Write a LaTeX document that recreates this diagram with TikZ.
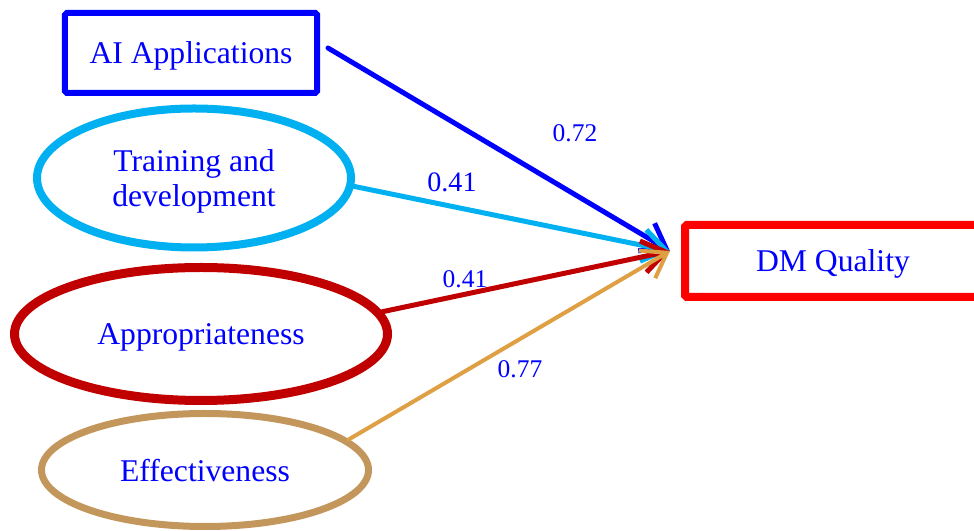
\documentclass[tikz,border=0pt]{standalone}
\usepackage{fontspec}
\setmainfont{Liberation Serif}
\usetikzlibrary{shapes.geometric,arrows.meta}
\definecolor{skyc}{RGB}{0,176,240}
\definecolor{darkr}{RGB}{192,0,0}
\definecolor{tanc}{RGB}{195,151,92}
\definecolor{orc}{RGB}{222,160,66}
\begin{document}
\begin{tikzpicture}[x=0.2mm,y=-0.2mm,
every node/.style={text=blue,font=\fontsize{18}{20}\selectfont,text depth=0pt},
wt/.style={font=\fontsize{14.5}{17}\selectfont},
link/.style={line width=1mm,line cap=round,-{Straight Barb[length=4.6mm,width=6.4mm]}}]
\useasboundingbox (0,0) rectangle (974,531);
% boxes and ellipses
\node[draw=blue,line width=1.2mm,rounded corners=1pt,minimum width=50.4mm,minimum height=16mm] (ai) at (191,53) {AI Applications};
\node[draw=skyc,ellipse,line width=1.6mm,minimum width=62.8mm,minimum height=27.8mm,align=center] (train) at (194,178) {Training and\\development};
\node[draw=darkr,ellipse,line width=1.8mm,minimum width=74.6mm,minimum height=26.6mm] (appr) at (201,334) {Appropriateness};
\node[draw=tanc,ellipse,line width=1.4mm,minimum width=65.4mm,minimum height=22.6mm] (eff) at (205,470) {Effectiveness};
\node[draw=red,line width=1.6mm,rounded corners=1pt,minimum width=59.2mm,minimum height=14.4mm] (dm) at (833,261) {DM Quality};
\coordinate (hub) at (670,251);
% arrows
\draw[link,blue] ([shift={(8,-5)}]ai.east) -- (hub);
\draw[link,skyc] (train.-3) -- (hub);
\draw[link,darkr] (appr.7) -- (hub);
\draw[link,orc,line width=0.8mm] (eff.12) -- (hub);
% weights
\node[wt] (w1) at (575,133) {0.72};
\node[wt,font=\fontsize{16}{18}\selectfont] (w2) at (452,182) {0.41};
\node[wt] (w3) at (465,279) {0.41};
\node[wt] (w4) at (520,369) {0.77};
\end{tikzpicture}
\end{document}
